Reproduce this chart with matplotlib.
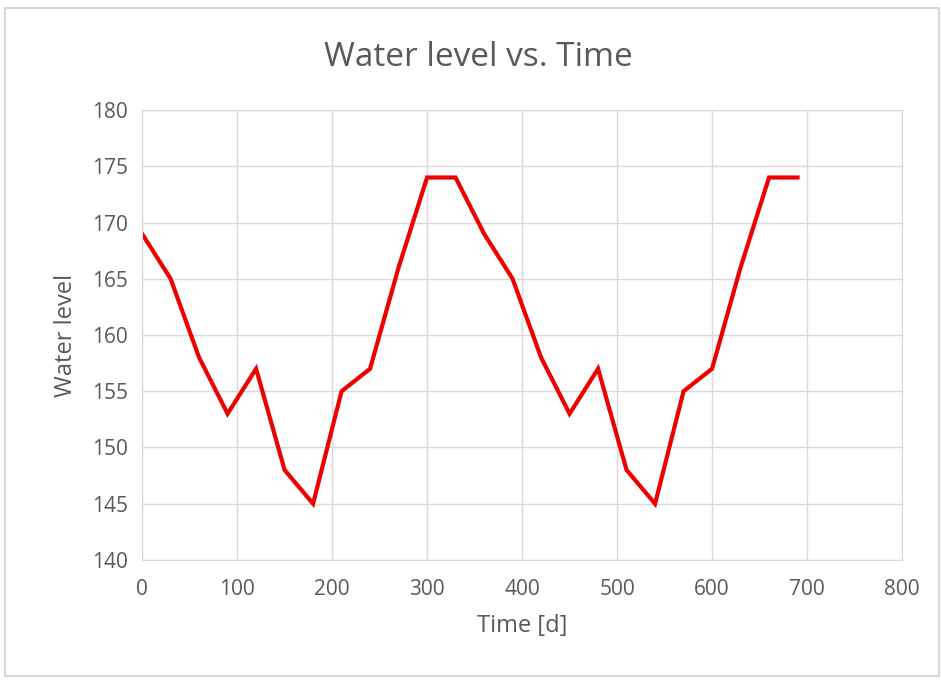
import numpy as np
import matplotlib.pyplot as plt
from matplotlib.patches import Rectangle

# water level readings, one every 30 days
days = [0, 30, 60, 90, 120, 150, 180, 210, 240, 270, 300, 330,
        360, 390, 420, 450, 480, 510, 540, 570, 600, 630, 660, 690]
level = [169, 165, 158, 153, 157, 148, 145, 155, 157, 166, 174, 174,
         169, 165, 158, 153, 157, 148, 145, 155, 157, 166, 174, 174]

xticks = [0, 100, 200, 300, 400, 500, 600, 700, 800]
yticks = [140, 145, 150, 155, 160, 165, 170, 175, 180]

plt.rcParams['font.family'] = ['Open Sans', 'DejaVu Sans']
grey = '#595959'

fig = plt.figure(figsize=(9.41, 6.8), dpi=100)
ax = fig.add_axes([0.151, 0.1765, 0.8076, 0.6617])

ax.plot(days, level, color='#ee0000', lw=3, solid_joinstyle='miter')

ax.set_xlim(0, 800)
ax.set_ylim(140, 180)
ax.set_xticks(xticks)
ax.set_yticks(yticks)
ax.grid(True, color='#d9d9d9', lw=1)
ax.set_axisbelow(True)
for s in ax.spines.values():
    s.set_color('#d9d9d9')
ax.tick_params(length=0, labelsize=15, colors=grey)
ax.tick_params(axis='x', pad=14)
ax.tick_params(axis='y', pad=10)

ax.set_xlabel('Time [d]', fontsize=17, color=grey, labelpad=10)
ax.set_ylabel('Water level', fontsize=17, color=grey, labelpad=10)
fig.suptitle('Water level vs. Time', fontsize=24, color=grey, x=0.508, y=0.94)

# thin frame around the whole chart
fig.patches.append(Rectangle((0.005, 0.006), 0.993, 0.982, transform=fig.transFigure,
                             fill=False, edgecolor='#d0d0d0', lw=1.2))

fig.savefig('out.png', dpi=100)
